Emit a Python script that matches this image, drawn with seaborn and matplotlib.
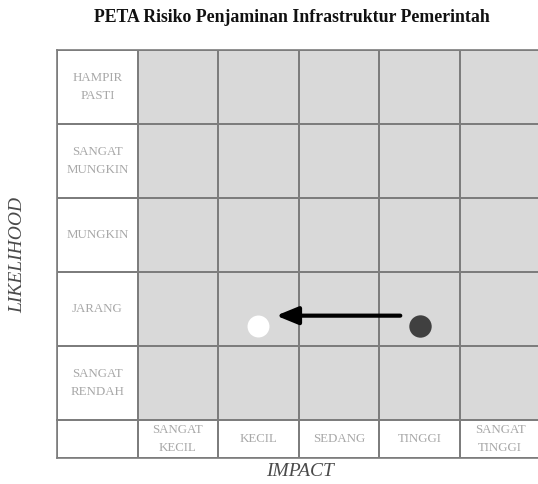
import numpy as np
import pandas as pd
import matplotlib
matplotlib.use('Agg')
import matplotlib.pyplot as plt
from matplotlib.colors import ListedColormap
import seaborn as sns

likelihood = ['HAMPIR\nPASTI', 'SANGAT\nMUNGKIN', 'MUNGKIN', 'JARANG', 'SANGAT\nRENDAH']
impact = ['SANGAT\nKECIL', 'KECIL', 'SEDANG', 'TINGGI', 'SANGAT\nTINGGI']
risk_before = ('TINGGI', 'JARANG')
risk_after = ('KECIL', 'JARANG')

title = 'PETA Risiko Penjaminan Infrastruktur Pemerintah'
grey = '#d9d9d9'
line = '#7d7d7d'
txt = '#a8a8a8'

sns.set_theme(style='white')
plt.rcParams['font.family'] = ['Liberation Serif', 'DejaVu Serif']


def grid_top():
    # label column (0) + one column per impact level (1)
    vals = np.ones((len(likelihood), len(impact) + 1))
    vals[:, 0] = 0
    ann = np.full(vals.shape, '', dtype=object)
    ann[:, 0] = likelihood
    return vals, ann


def grid_bottom():
    vals = np.zeros((1, len(impact) + 1))
    ann = np.array([[''] + impact], dtype=object)
    return vals, ann


def draw(ax, vals, ann):
    sns.heatmap(vals, ax=ax, cmap=ListedColormap(['white', grey]), vmin=0, vmax=1,
                cbar=False, linewidths=1.2, linecolor=line, annot=ann, fmt='',
                annot_kws={'color': txt, 'fontsize': 9.3, 'linespacing': 1.75},
                xticklabels=False, yticklabels=False)
    for s in ax.spines.values():
        s.set_visible(True)
        s.set_color(line)
        s.set_linewidth(1.2)


fig = plt.figure(figsize=(5.38, 4.84), dpi=100)
a1 = fig.add_axes([57 / 538, 64 / 484, 483.5 / 538, 370 / 484])
a2 = fig.add_axes([57 / 538, 26 / 484, 483.5 / 538, 38 / 484])

v, a = grid_top()
draw(a1, v, a)
v, a = grid_bottom()
draw(a2, v, a)

# risk movement (x offset by label column, dots sit low in the cell)
x0 = impact.index(risk_before[0]) + 1 + 0.5
x1 = impact.index(risk_after[0]) + 1 + 0.5
y0 = likelihood.index(risk_before[1]) + 0.73
y1 = likelihood.index(risk_after[1]) + 0.73
a1.scatter([x0], [y0], s=260, color='#404040', zorder=5, linewidths=0)
a1.scatter([x1], [y1], s=250, color='white', zorder=5, linewidths=0)
a1.annotate('', xy=(x1 + 0.22, y1 - 0.14), xytext=(x0 - 0.24, y0 - 0.14),
            arrowprops=dict(arrowstyle='-|>,head_length=1.1,head_width=0.45',
                            color='black', lw=3, shrinkA=0, shrinkB=0), zorder=6)

fig.text(292 / 538, 1 - 17 / 484, title, ha='center', va='center',
         fontsize=12.8, fontweight='bold', color='#111111')
fig.text(18 / 538, 1 - 255 / 484, 'LIKELIHOOD', rotation=90, ha='center', va='center',
         fontsize=14, fontstyle='italic', color='#4a4a4a')
fig.text(300 / 538, 1 - 472 / 484, 'IMPACT', ha='center', va='center',
         fontsize=14, fontstyle='italic', color='#4a4a4a')

fig.savefig('out.png', dpi=100)
